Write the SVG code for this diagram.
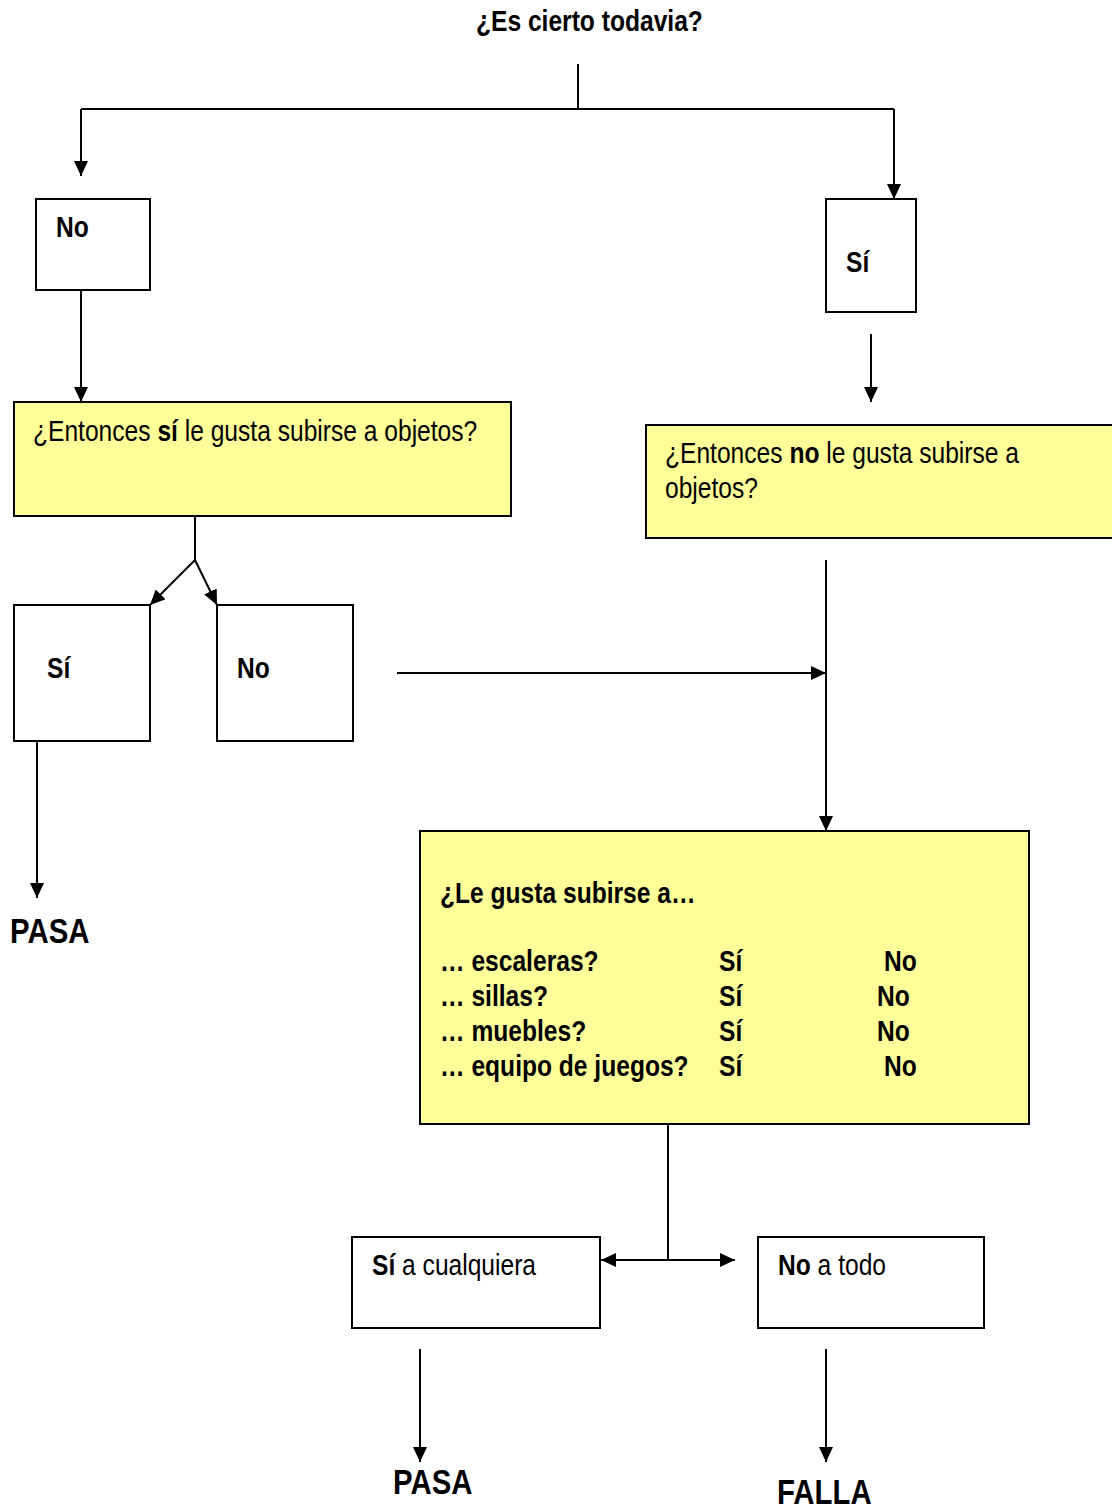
<svg xmlns="http://www.w3.org/2000/svg" width="1112" height="1511" viewBox="0 0 1112 1511">
<style>
text{font-family:"Liberation Sans",Arial,sans-serif;font-size:30px;fill:#000}
.b{font-weight:bold}
.big{font-weight:bold;font-size:35px}
.box{fill:#fff;stroke:#000;stroke-width:2}
.ybox{fill:#ffff99;stroke:#000;stroke-width:2}
.ln{fill:none;stroke:#000;stroke-width:2}
</style>
<defs>
<marker id="ah" markerUnits="userSpaceOnUse" markerWidth="15" markerHeight="14" refX="15" refY="7" orient="auto">
<path d="M0,0 L15,7 L0,14 z" fill="#000"/>
</marker>
</defs>
<g id="title"><text class="b" transform="translate(476,31) scale(0.82 1)">¿Es cierto todavia?</text></g>
<g id="connectors">
<path class="ln" d="M578,64 V109"/>
<path class="ln" d="M81,109 H894"/>
<path class="ln" d="M81,109 V176" marker-end="url(#ah)"/>
<path class="ln" d="M894,109 V199" marker-end="url(#ah)"/>
<path class="ln" d="M81,290 V402" marker-end="url(#ah)"/>
<path class="ln" d="M871,334 V402" marker-end="url(#ah)"/>
<path class="ln" d="M195,516 V560"/>
<path class="ln" d="M195,560 L150,605" marker-end="url(#ah)"/>
<path class="ln" d="M195,560 L217,605" marker-end="url(#ah)"/>
<path class="ln" d="M37,741 V898" marker-end="url(#ah)"/>
<path class="ln" d="M397,673 H826" marker-end="url(#ah)"/>
<path class="ln" d="M826,560 V831" marker-end="url(#ah)"/>
<path class="ln" d="M668,1124 V1260"/>
<path class="ln" d="M668,1260 H601" marker-end="url(#ah)"/>
<path class="ln" d="M668,1260 H735" marker-end="url(#ah)"/>
<path class="ln" d="M420,1349 V1462" marker-end="url(#ah)"/>
<path class="ln" d="M826,1349 V1462" marker-end="url(#ah)"/>
</g>
<g id="no1"><rect class="box" x="36" y="199" width="114" height="91"/><text class="b" transform="translate(56,237) scale(0.82 1)">No</text></g>
<g id="si1"><rect class="box" x="826" y="199" width="90" height="113"/><text class="b" transform="translate(846,272) scale(0.82 1)">Sí</text></g>
<g id="q1"><rect class="ybox" x="14" y="402" width="497" height="114"/><text transform="translate(33,441) scale(0.82 1)">¿Entonces <tspan class="b">sí</tspan> le gusta subirse a objetos?</text></g>
<g id="q2"><rect class="ybox" x="646" y="425" width="470" height="113"/><text transform="translate(665,463) scale(0.82 1)">¿Entonces <tspan class="b">no</tspan> le gusta subirse a</text><text transform="translate(665,498) scale(0.82 1)">objetos?</text></g>
<g id="si2"><rect class="box" x="14" y="605" width="136" height="136"/><text class="b" transform="translate(47,678) scale(0.82 1)">Sí</text></g>
<g id="no2"><rect class="box" x="217" y="605" width="136" height="136"/><text class="b" transform="translate(237,678) scale(0.82 1)">No</text></g>
<g id="pasa1"><text class="big" transform="translate(10,943) scale(0.84 1)">PASA</text></g>
<g id="q3"><rect class="ybox" x="420" y="831" width="609" height="293"/>
<text class="b" transform="translate(440,903) scale(0.82 1)">¿Le gusta subirse a…</text>
<text class="b" transform="translate(440,971) scale(0.82 1)">… escaleras?</text>
<text class="b" transform="translate(719,971) scale(0.82 1)">Sí</text>
<text class="b" transform="translate(884,971) scale(0.82 1)">No</text>
<text class="b" transform="translate(440,1006) scale(0.82 1)">… sillas?</text>
<text class="b" transform="translate(719,1006) scale(0.82 1)">Sí</text>
<text class="b" transform="translate(877,1006) scale(0.82 1)">No</text>
<text class="b" transform="translate(440,1041) scale(0.82 1)">… muebles?</text>
<text class="b" transform="translate(719,1041) scale(0.82 1)">Sí</text>
<text class="b" transform="translate(877,1041) scale(0.82 1)">No</text>
<text class="b" transform="translate(440,1076) scale(0.82 1)">… equipo de juegos?</text>
<text class="b" transform="translate(719,1076) scale(0.82 1)">Sí</text>
<text class="b" transform="translate(884,1076) scale(0.82 1)">No</text>
</g>
<g id="sicual"><rect class="box" x="352" y="1237" width="248" height="91"/><text transform="translate(372,1275) scale(0.82 1)"><tspan class="b">Sí</tspan> a cualquiera</text></g>
<g id="notodo"><rect class="box" x="758" y="1237" width="226" height="91"/><text transform="translate(778,1275) scale(0.82 1)"><tspan class="b">No</tspan> a todo</text></g>
<g id="pasa2"><text class="big" transform="translate(393,1494) scale(0.84 1)">PASA</text></g>
<g id="falla"><text class="big" transform="translate(777,1504) scale(0.84 1)">FALLA</text></g>
</svg>
